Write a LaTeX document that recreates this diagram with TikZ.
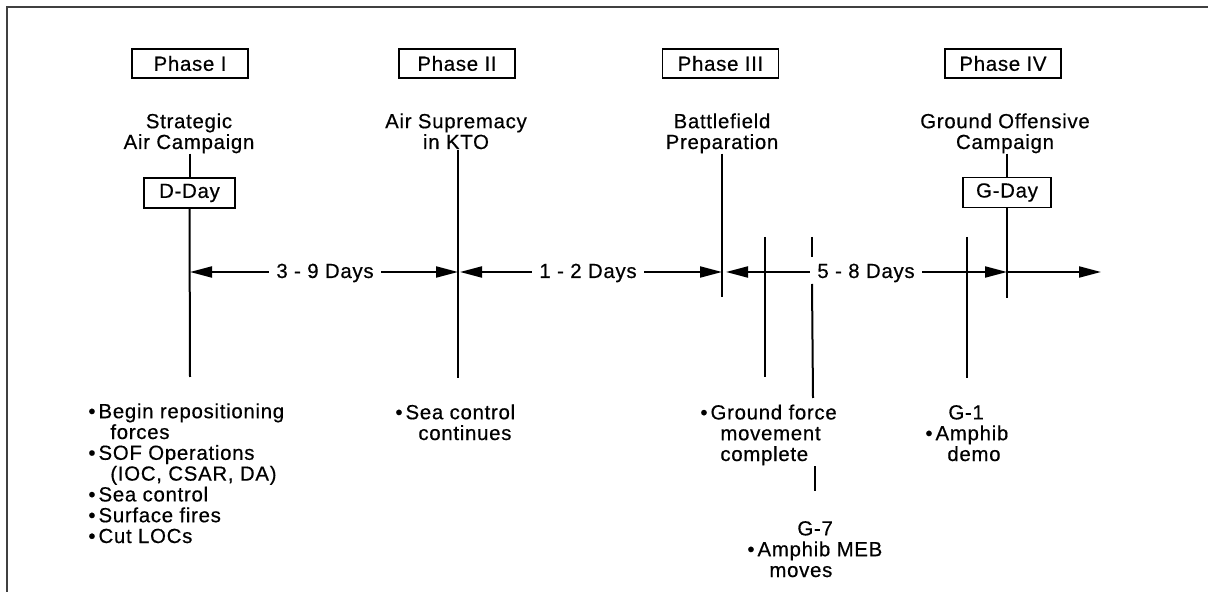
\documentclass[tikz,border=0pt]{standalone}
\usepackage{fontspec}
\setmainfont{Liberation Sans}[LetterSpace=3.5,FakeBold=0.5]
\usetikzlibrary{arrows.meta}
\begin{document}
\begin{tikzpicture}[x=0.5pt,y=-0.5pt,
  txt/.style={font=\fontsize{10.2}{10.4}\selectfont, inner sep=0pt},
  phasebox/.style={txt, draw, line width=0.9pt, minimum width=58pt, minimum height=14.5pt},
  daybox/.style={txt, draw, line width=0.9pt, minimum height=15pt},
  ln/.style={line width=1pt},
  arr/.style={ln, -{Triangle[length=11pt,width=5.5pt]}},
  ]
\useasboundingbox (0,0) rectangle (1208,592);
\draw[line width=0.8pt, black!75] (1208,7) -- (7,7) -- (7,592);

% phase boxes
\node[phasebox] (p1) at (190,63.5) {Phase I};
\node[phasebox] (p2) at (457,63.5) {Phase II};
\node[phasebox] (p3) at (720.5,63.5) {Phase III};
\node[phasebox] (p4) at (1003,63.5) {Phase IV};

% titles (base anchor = baseline of last line)
\node[txt, align=center, anchor=base] (t1) at (189,149) {Strategic\\Air Campaign};
\node[txt, align=center, anchor=base] (t2) at (456,149) {Air Supremacy\\in KTO};
\node[txt, align=center, anchor=base] (t3) at (722,149) {Battlefield\\Preparation};
\node[txt, align=center, anchor=base] (t4) at (1005,149) {Ground Offensive\\Campaign};

% day boxes
\node[daybox, minimum width=45.5pt] (dday) at (189.5,193) {D-Day};
\node[daybox, minimum width=44pt] (gday) at (1007,192.5) {G-Day};

% line end coordinates
\coordinate (e1) at (190,377);
\coordinate (e2) at (458,378);
\coordinate (e3) at (722,297);
\coordinate (e4) at (1007,298);
\coordinate (aTop) at (765,237);
\coordinate (aBot) at (765,377);
\coordinate (bTop) at (812,237);
\coordinate (bGap1) at (812,257);
\coordinate (bGap2) at (812,284);
\coordinate (bMid) at (813,398);
\coordinate (bLow1) at (815,466);
\coordinate (bLow2) at (815,491);
\coordinate (cTop) at (967,237);
\coordinate (cBot) at (967,378);
\coordinate (axEnd) at (1101,272);

% vertical lines
\draw[ln] (dday.north |- t1.south) -- (dday.north);
\draw[ln] (dday.south) -- (e1);
\draw[ln] (t2.south -| e2) -- (e2);
\draw[ln] (t3.south -| e3) -- (e3);
\draw[ln] (gday.north |- t4.south) -- (gday.north);
\draw[ln] (gday.south) -- (e4);
\draw[ln] (aTop) -- (aBot);
\draw[ln] (bTop) -- (bGap1);
\draw[ln] (bGap2) -- (bMid);
\draw[ln] (bLow1) -- (bLow2);
\draw[ln] (cTop) -- (cBot);

% axis labels
\node[txt, inner xsep=3.5pt, anchor=base] (l1) at (325,278) {3 - 9 Days};
\node[txt, inner xsep=3.5pt, anchor=base] (l2) at (588,278) {1 - 2 Days};
\node[txt, inner xsep=3.5pt, anchor=base] (l3) at (866,278) {5 - 8 Days};

\coordinate (ax) at (0,272);
\draw[arr] (l1.west |- ax) -- (e1 |- ax);
\draw[arr] (l1.east |- ax) -- (e2 |- ax);
\draw[arr] (l2.west |- ax) -- ([xshift=1pt]e2 |- ax);
\draw[arr] (l2.east |- ax) -- (e3 |- ax);
\draw[arr] (l3.west |- ax) -- ([xshift=2pt]e3 |- ax);
\draw[arr] (l3.east |- ax) -- (e4 |- ax);
\draw[arr] (e4 |- ax) -- (axEnd);

% bottom texts (base anchor = baseline of last line)
\node[txt, align=left, anchor=base west] (b1) at (88,543)
  {\textbullet\hspace{1.5pt}Begin repositioning\\
   \hspace*{11pt}forces\\
   \textbullet\hspace{1.5pt}SOF Operations\\
   \hspace*{11pt}(IOC, CSAR, DA)\\
   \textbullet\hspace{1.5pt}Sea control\\
   \textbullet\hspace{1.5pt}Surface fires\\
   \textbullet\hspace{1.5pt}Cut LOCs};
\node[txt, align=left, anchor=base west] (b2) at (395,440)
  {\textbullet\hspace{1.5pt}Sea control\\
   \hspace*{11.5pt}continues};
\node[txt, align=left, anchor=base west] (b3) at (700,461)
  {\textbullet\hspace{1.5pt}Ground force\\
   \hspace*{10pt}movement\\
   \hspace*{10pt}complete};
\node[txt, align=left, anchor=base west] (b4) at (925,461)
  {\hspace*{11.5pt}G-1\\
   \textbullet\hspace{1.5pt}Amphib\\
   \hspace*{11pt}demo};
\node[txt, align=left, anchor=base west] (b5) at (747,577)
  {\hspace*{25pt}G-7\\
   \textbullet\hspace{1.5pt}Amphib MEB\\
   \hspace*{11pt}moves};
\end{tikzpicture}
\end{document}
